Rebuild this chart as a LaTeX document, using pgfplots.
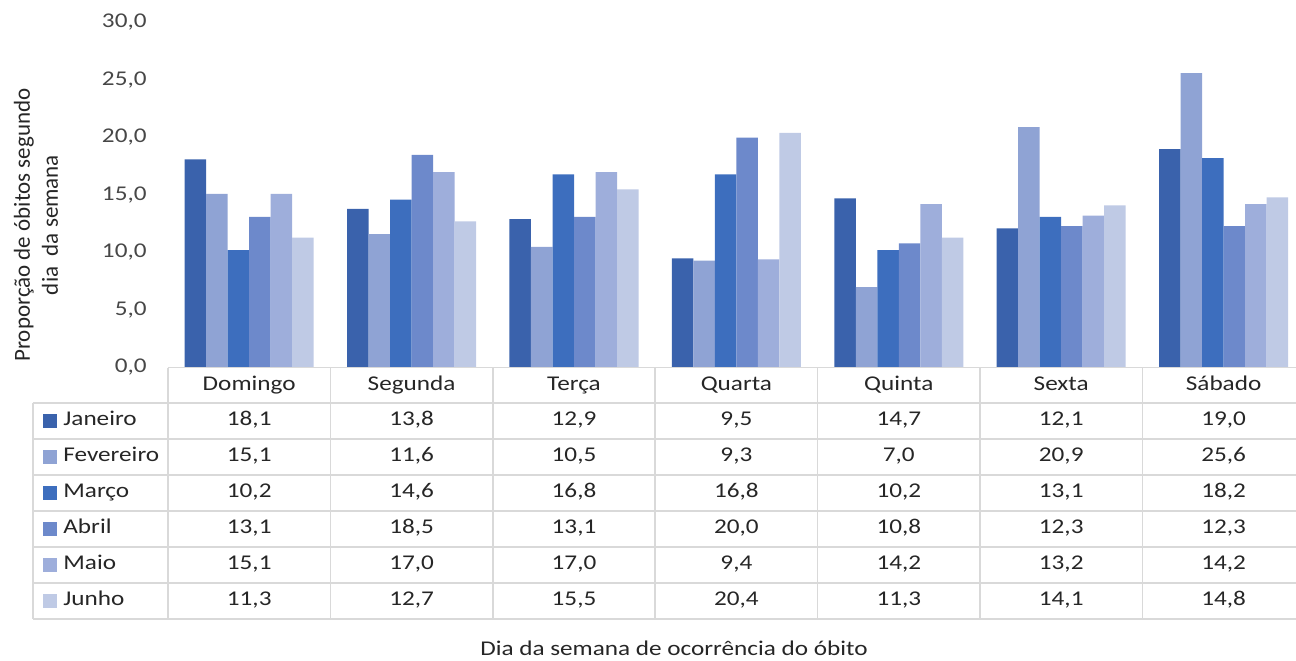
\documentclass[border=0pt]{standalone}
\usepackage{pgfplots}
\usepackage{pgfplotstable}
\pgfplotsset{compat=1.18}
\usepackage{fontspec}
\setmainfont{Carlito}[FakeStretch=1.2]
\newfontfamily\ylabfont{Carlito}
\definecolor{cJan}{HTML}{3A62AC}
\definecolor{cFev}{HTML}{8FA3D4}
\definecolor{cMar}{HTML}{3D6EBE}
\definecolor{cAbr}{HTML}{6D89CB}
\definecolor{cMai}{HTML}{9EAEDB}
\definecolor{cJun}{HTML}{BFCAE5}
\definecolor{grid}{HTML}{D9D9D9}
\definecolor{txt}{HTML}{262626}
\pgfplotstableread{
x Jan Fev Mar Abr Mai Jun
0 18.1 15.1 10.2 13.1 15.1 11.3
1 13.8 11.6 14.6 18.5 17.0 12.7
2 12.9 10.5 16.8 13.1 17.0 15.5
3 9.5 9.3 16.8 20.0 9.4 20.4
4 14.7 7.0 10.2 10.8 14.2 11.3
5 12.1 20.9 13.1 12.3 13.2 14.1
6 19.0 25.6 18.2 12.3 14.2 14.8
}\data
\begin{document}
\fontsize{10.5pt}{12.6pt}\selectfont
\begin{tikzpicture}
\path[use as bounding box] (-84pt,-146.25pt) rectangle (564pt,183.75pt);
\begin{axis}[
  scale only axis,
  width=568.4pt, height=172.5pt,
  xmin=-0.5, xmax=6.5, ymin=0, ymax=30,
  ybar=0pt, bar width=10.75pt,
  axis line style={draw=none},
  xtick=\empty,
  ytick={0,5,...,30},
  major tick length=0pt,
  yticklabel style={font=\fontsize{10.5pt}{12pt}\selectfont, text=txt!85, xshift=-7pt},
  /pgf/number format/.cd, fixed, fixed zerofill, precision=1, use comma, assume math mode=true,
]
\addplot[fill=cJan, draw=none] table[x=x,y=Jan] {\data};
\addplot[fill=cFev, draw=none] table[x=x,y=Fev] {\data};
\addplot[fill=cMar, draw=none] table[x=x,y=Mar] {\data};
\addplot[fill=cAbr, draw=none] table[x=x,y=Abr] {\data};
\addplot[fill=cMai, draw=none] table[x=x,y=Mai] {\data};
\addplot[fill=cJun, draw=none] table[x=x,y=Jun] {\data};
\end{axis}
% table grid
\begin{scope}[draw=grid, line width=0.8pt]
\draw (0pt,0pt) -- (564pt,0pt);
\foreach \k in {0,...,6} {
  \draw (-67.5pt,{-17.6pt-18pt*\k}) -- (564pt,{-17.6pt-18pt*\k});
}
\foreach \k in {0,...,6} {
  \draw ({81.2pt*\k},0pt) -- ({81.2pt*\k},-125.6pt);
}
\draw (-67.5pt,-17.6pt) -- (-67.5pt,-125.6pt);
\end{scope}
% header
\foreach \r/\n in {0/Domingo,1/Segunda,2/Terça,3/Quarta,4/Quinta,5/Sexta,6/Sábado} {
  \node[text=txt, inner sep=0pt] at ({81.2pt*\r+40.6pt},-8.8pt) {\strut\n};
}
% legend column
\foreach \c/\lab/\i in {cJan/Janeiro/0,cFev/Fevereiro/1,cMar/Março/2,cAbr/Abril/3,cMai/Maio/4,cJun/Junho/5} {
  \fill[\c] (-62.5pt,{-26.6pt-18pt*\i-3.5pt}) rectangle (-55.5pt,{-26.6pt-18pt*\i+3.5pt});
  \node[text=txt, anchor=west, inner sep=0pt] at (-52.5pt,{-26.6pt-18pt*\i}) {\strut\lab};
}
% values
\foreach \r in {0,...,6} {
  \foreach \c/\i in {Jan/0,Fev/1,Mar/2,Abr/3,Mai/4,Jun/5} {
    \pgfplotstablegetelem{\r}{\c}\of\data
    \node[text=txt, inner sep=0pt] at ({81.2pt*\r+40.6pt},{-26.6pt-18pt*\i})
      {\strut\pgfmathprintnumber[fixed, fixed zerofill, precision=1, use comma, assume math mode=true]{\pgfplotsretval}};
  }
}
% axis titles
\node[rotate=90, align=center, text=txt, font=\ylabfont\fontsize{11.5pt}{14pt}\selectfont] at (-66pt,71.25pt)
  {Proporção de óbitos segundo\\dia\ \ da semana};
\node[text=txt] at (253pt,-140.25pt) {Dia da semana de ocorrência do óbito};
\end{tikzpicture}
\end{document}
